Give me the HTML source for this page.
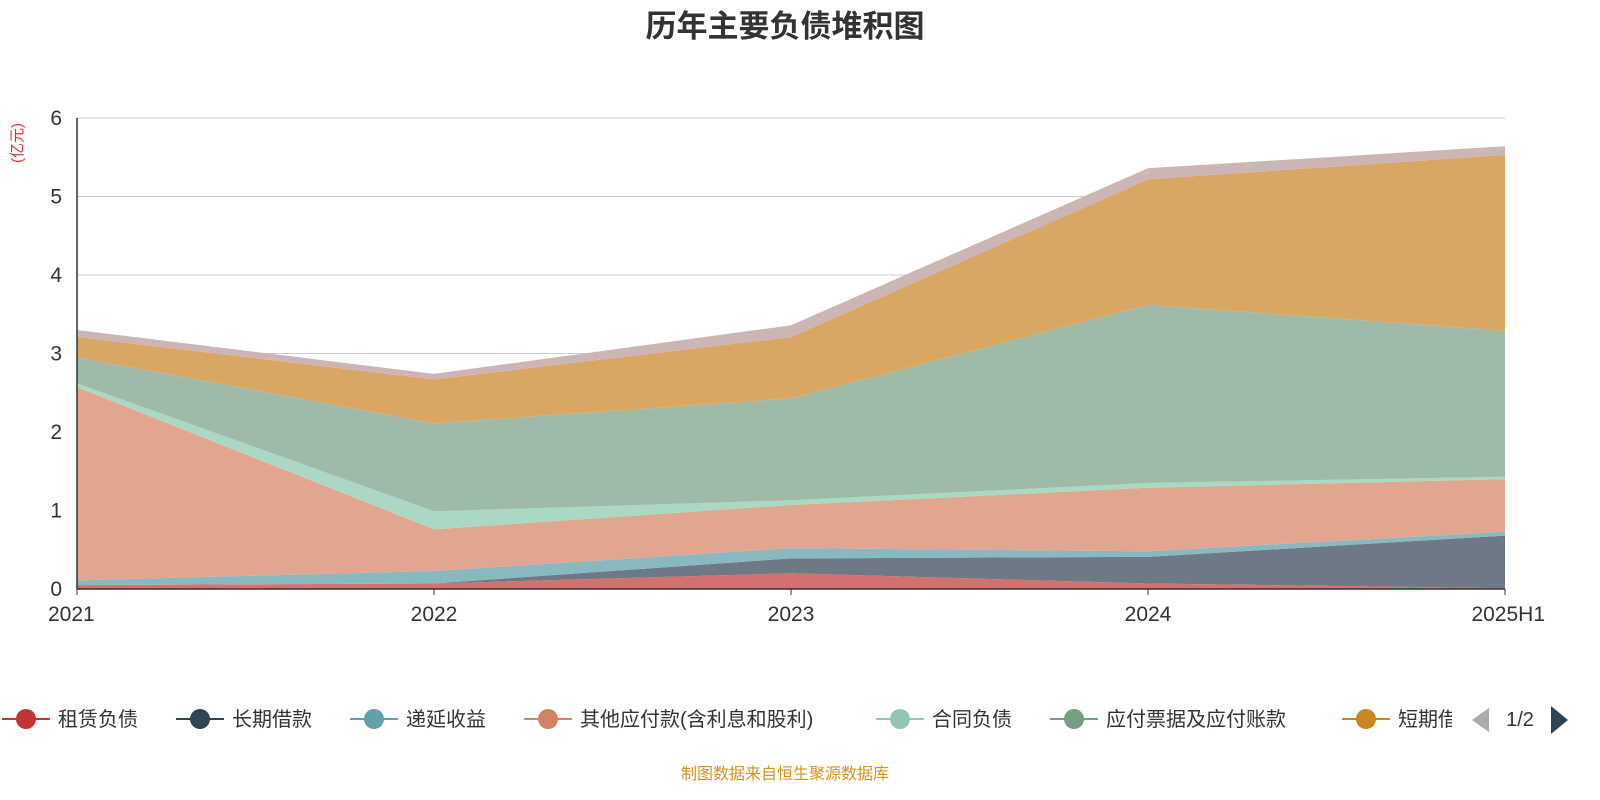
<!DOCTYPE html>
<html><head><meta charset="utf-8"><style>
html,body{margin:0;padding:0;width:1600px;height:800px;background:#fff;font-family:"Liberation Sans","Noto Sans CJK SC",sans-serif;overflow:hidden}
svg{display:block}
svg text{font-family:"Liberation Sans","Noto Sans CJK SC",sans-serif}
</style></head><body>
<svg id="c" width="1600" height="800" viewBox="0 0 1600 800">
<text x="785" y="37" text-anchor="middle" font-size="31" font-weight="bold" fill="#333">历年主要负债堆积图</text>
<text transform="rotate(-90,22,143)" x="22" y="143" text-anchor="middle" font-size="15" fill="#e03030">(亿元)</text>
<g id="grid"></g><g id="areas"></g><g id="axes"></g><g id="legend"></g>
<text x="785" y="779" text-anchor="middle" font-size="16" fill="#d4941c">制图数据来自恒生聚源数据库</text>
</svg>
<script>
const categories=["2021","2022","2023","2024","2025H1"];
const seriesNames=["租赁负债","长期借款","递延收益","其他应付款(含利息和股利)","合同负债","应付票据及应付账款","短期借款","其他"];
const s0=[0.05,0.07,0.20,0.07,0.01];
const s1=[0.00,0.00,0.19,0.34,0.67];
const s2=[0.06,0.16,0.13,0.07,0.05];
const s3=[2.46,0.53,0.55,0.81,0.67];
const s4=[0.05,0.23,0.06,0.06,0.03];
const s5=[0.33,1.12,1.30,2.27,1.86];
const s6=[0.26,0.56,0.78,1.60,2.24];
const s7=[0.09,0.07,0.15,0.14,0.11];
const yTicks=[0,1,2,3,4,5,6];
const series=[s0,s1,s2,s3,s4,s5,s6,s7];
const fills=["#d4716f","#6d7a86","#87b9bf","#e0a690","#aad8c4","#9fbba8","#d8a862","#cbb6b3"];
const lineCols=["#c23531","#2f4554","#61a0a8","#d48265","#91c7ae","#749f83","#ca8622","#bda29a"];
const X0=77,X1=1505,Y0=589,Y1=118,YMAX=6;
const xs=i=>X0+(X1-X0)*i/(categories.length-1);
const ys=v=>Y0-(Y0-Y1)*v/YMAX;
const NS="http://www.w3.org/2000/svg";
function mk(t,a,p){const e=document.createElementNS(NS,t);for(const k in a)e.setAttribute(k,a[k]);p.appendChild(e);return e;}
const grid=document.getElementById('grid'),areas=document.getElementById('areas'),axes=document.getElementById('axes'),leg=document.getElementById('legend');
yTicks.forEach(t=>{
 if(t>0){const l=mk('line',{x1:X0,x2:X1,y1:ys(t),y2:ys(t),stroke:'#ccc','stroke-width':1},grid);
 
 }
 const tx=mk('text',{x:62,y:ys(t)+7,'text-anchor':'end','font-size':21,fill:'#333'},axes);tx.textContent=t;
 
 
});
let base=categories.map(()=>0);
series.forEach((s,k)=>{
 const top=base.map((b,i)=>b+s[i]);
 let d='M'+top.map((v,i)=>xs(i)+','+ys(v)).join('L');
 for(let i=categories.length-1;i>=0;i--)d+='L'+xs(i)+','+ys(base[i]);
 const p=mk('path',{d:d+'Z',fill:fills[k]},areas);
 
 
 base=top;
});
mk('line',{x1:X0,x2:X0,y1:Y1,y2:Y0,stroke:'#333','stroke-width':1.5},axes);
mk('line',{x1:X0,x2:X1,y1:Y0,y2:Y0,stroke:'#333','stroke-width':1.5},axes);
categories.forEach((c,i)=>{
 mk('line',{x1:xs(i),x2:xs(i),y1:Y0,y2:Y0+6,stroke:'#333'},axes);
 const tx=mk('text',{x:i==0?48:(i==categories.length-1?1545:xs(i)),y:621,'text-anchor':i==0?'start':(i==categories.length-1?'end':'middle'),'font-size':21,fill:'#333'},axes);tx.textContent=c;
 
 
});
const lx=[0,174,348,522,874,1048,1340];
const clip=mk('clipPath',{id:'lc'},leg);mk('rect',{x:0,y:690,width:1452,height:60},clip);
const lg=mk('g',{'clip-path':'url(#lc)'},leg);
for(let k=0;k<7;k++){
 const g=mk('g',{},lg);
 
 
 mk('line',{x1:lx[k]+2,x2:lx[k]+50,y1:719,y2:719,stroke:lineCols[k],'stroke-width':2},g);
 mk('circle',{cx:lx[k]+26,cy:719,r:10,fill:lineCols[k]},g);
 const t=mk('text',{x:lx[k]+58,y:726,'font-size':20,fill:'#333'},g);t.textContent=seriesNames[k];
}
const pl=mk('path',{d:'M1489,708L1472,720L1489,732Z',fill:'#aaa'},leg);


const pt=mk('text',{x:1520,y:726,'text-anchor':'middle','font-size':20,fill:'#333'},leg);pt.textContent='1/2';


const pn=mk('path',{d:'M1551,706L1568,720L1551,734Z',fill:'#2f4554'},leg);


</script>
</body></html>
